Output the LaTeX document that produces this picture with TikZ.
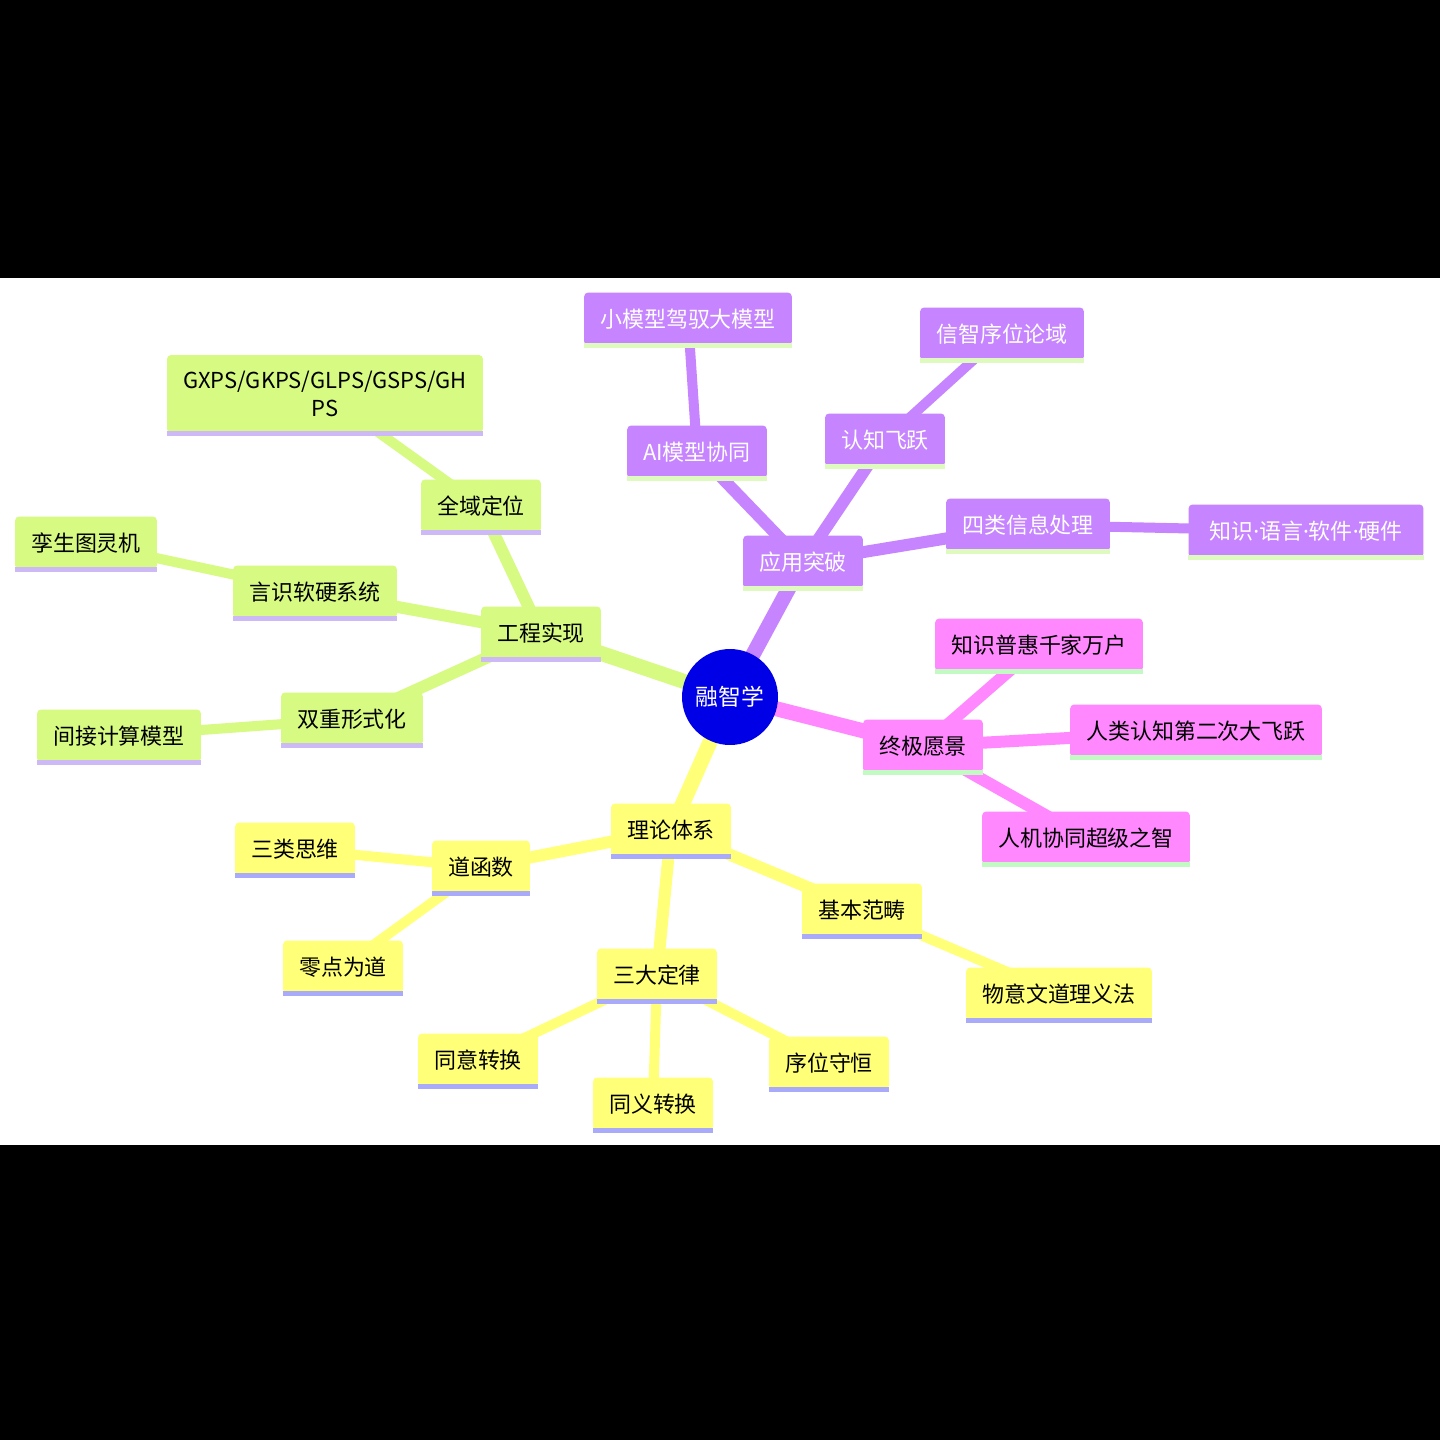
\documentclass[tikz,border=0pt]{standalone}
\usepackage{fontspec}
\setmainfont{Noto Sans CJK SC}
\newfontfamily\dotfont{Noto Sans}
\usetikzlibrary{positioning, calc}

\definecolor{grfill}{RGB}{214,250,130}
\definecolor{grbar}{RGB}{205,185,245}
\definecolor{pufill}{RGB}{198,132,255}
\definecolor{pubar}{RGB}{222,250,190}
\definecolor{pkfill}{RGB}{255,136,255}
\definecolor{pkbar}{RGB}{195,250,195}
\definecolor{yefill}{RGB}{255,255,120}
\definecolor{yebar}{RGB}{170,170,250}
\definecolor{corefill}{RGB}{0,0,230}

\newcommand{\middot}{{\dotfont\textperiodcentered}}

\pgfdeclarelayer{paper}
\pgfdeclarelayer{links}
\pgfsetlayers{paper,links,main}

\begin{document}
\begin{tikzpicture}[
      x=0.02cm, y=-0.02cm,
      box/.style={rectangle, rounded corners=0.08cm, align=center,
        inner xsep=0.32cm, minimum height=1.06cm,
        font=\fontsize{12.5}{16}\selectfont},
      bar/.style={append after command={
        (\tikzlastnode.south west) edge[draw=#1, line width=0.1cm]
        (\tikzlastnode.south east)}},
      gbox/.style={box, fill=grfill, text=black, bar=grbar},
      pbox/.style={box, fill=pufill, text=white, bar=pubar},
      kbox/.style={box, fill=pkfill, text=black, bar=pkbar},
      ybox/.style={box, fill=yefill, text=black, bar=yebar},
      core/.style={circle, fill=corefill, text=white, minimum size=1.92cm,
        inner sep=0pt, font=\fontsize{13}{16}\selectfont},
      trunk/.style={line width=0.3cm},
      twig/.style={line width=0.24cm},
      leaf/.style={line width=0.2cm}
    ]
    % page
    \begin{pgfonlayer}{paper}
      \fill[black] (0,0) rectangle (1440,1440);
      \fill[white] (0,278) rectangle (1440,1145);
    \end{pgfonlayer}

    \node[core] (root) at (730,697) {融智学};

    % engineering
    \node[gbox] (eng) at (541,633) {工程实现};
    \node[gbox] (locate) at (481,506) {全域定位};
    \node[gbox, minimum height=1.56cm] (gxps) at (325,394) {GXPS/GKPS/GLPS/GSPS/GH\\PS};
    \node[gbox] (langsys) at (315,592) {言识软硬系统};
    \node[gbox] (twin) at (86,543) {孪生图灵机};
    \node[gbox] (dual) at (352,719) {双重形式化};
    \node[gbox] (indirect) at (119,736) {间接计算模型};

    % applications
    \node[pbox] (app) at (803,562) {应用突破};
    \node[pbox] (aico) at (697,452) {AI模型协同};
    \node[pbox] (smallbig) at (688,319) {小模型驾驭大模型};
    \node[pbox] (leap) at (885,440) {认知飞跃};
    \node[pbox] (infodom) at (1002,334) {信智序位论域};
    \node[pbox] (fourinfo) at (1028,525) {四类信息处理};
    \node[pbox, minimum width=4.7cm] (knowlang) at (1306,531) {知识\middot 语言\middot 软件\middot 硬件};

    % vision
    \node[kbox] (vision) at (923,746) {终极愿景};
    \node[kbox] (share) at (1039,645) {知识普惠千家万户};
    \node[kbox] (second) at (1196,731) {人类认知第二次大飞跃};
    \node[kbox] (superwise) at (1086,838) {人机协同超级之智};

    % theory
    \node[ybox] (theory) at (671,830) {理论体系};
    \node[ybox] (daofn) at (481,867) {道函数};
    \node[ybox] (think) at (295,849) {三类思维};
    \node[ybox] (zero) at (343,967) {零点为道};
    \node[ybox] (basic) at (862,910) {基本范畴};
    \node[ybox] (wuyi) at (1059,994) {物意文道理义法};
    \node[ybox] (laws) at (657,975) {三大定律};
    \node[ybox] (sameidea) at (478,1060) {同意转换};
    \node[ybox] (samemean) at (653,1104) {同义转换};
    \node[ybox] (order) at (829,1063) {序位守恒};

    \begin{pgfonlayer}{links}
      \draw[trunk, grfill] (root.center) -- (eng.center);
      \draw[twig, grfill] (eng.center) -- (locate.center);
      \draw[twig, grfill] (eng.center) -- (langsys.center);
      \draw[twig, grfill] (eng.center) -- (dual.center);
      \draw[leaf, grfill] (locate.center) -- (gxps.center);
      \draw[leaf, grfill] (langsys.center) -- (twin.center);
      \draw[leaf, grfill] (dual.center) -- (indirect.center);

      \draw[trunk, pufill] (root.center) -- (app.center);
      \draw[twig, pufill] (app.center) -- (aico.center);
      \draw[twig, pufill] (app.center) -- (leap.center);
      \draw[twig, pufill] (app.center) -- (fourinfo.center);
      \draw[leaf, pufill] (aico.center) -- (smallbig.center);
      \draw[leaf, pufill] (leap.center) -- (infodom.center);
      \draw[leaf, pufill] (fourinfo.center) -- (knowlang.center);

      \draw[trunk, pkfill] (root.center) -- (vision.center);
      \draw[twig, pkfill] (vision.center) -- (share.center);
      \draw[twig, pkfill] (vision.center) -- (second.center);
      \draw[twig, pkfill] (vision.center) -- (superwise.center);

      \draw[trunk, yefill] (root.center) -- (theory.center);
      \draw[twig, yefill] (theory.center) -- (daofn.center);
      \draw[twig, yefill] (theory.center) -- (basic.center);
      \draw[twig, yefill] (theory.center) -- (laws.center);
      \draw[leaf, yefill] (daofn.center) -- (think.center);
      \draw[leaf, yefill] (daofn.center) -- (zero.center);
      \draw[leaf, yefill] (basic.center) -- (wuyi.center);
      \draw[leaf, yefill] (laws.center) -- (sameidea.center);
      \draw[leaf, yefill] (laws.center) -- (samemean.center);
      \draw[leaf, yefill] (laws.center) -- (order.center);
    \end{pgfonlayer}
  \end{tikzpicture}
\end{document}
